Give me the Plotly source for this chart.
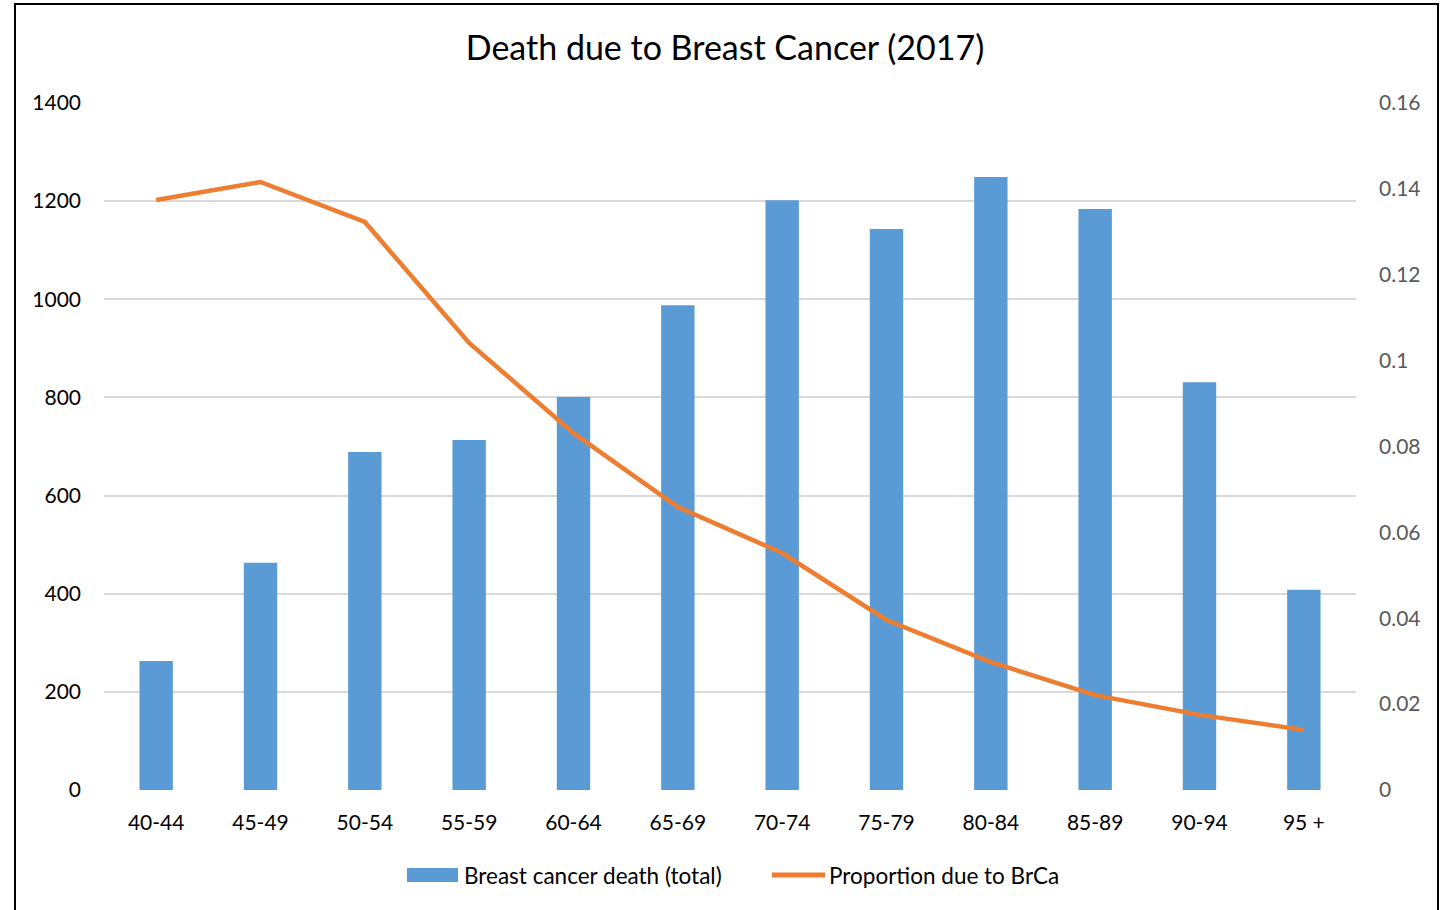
import plotly.graph_objects as go

categories = ["40-44", "45-49", "50-54", "55-59", "60-64", "65-69",
              "70-74", "75-79", "80-84", "85-89", "90-94", "95 +"]
deaths_total = [263, 463, 689, 713, 801, 988, 1202, 1143, 1249, 1184, 831, 408]
proportion = [0.1374, 0.1416, 0.1323, 0.1041, 0.0831, 0.0659,
              0.0552, 0.0396, 0.0298, 0.0221, 0.0175, 0.0140]
left_ticks = [0, 200, 400, 600, 800, 1000, 1200, 1400]
right_ticks = [0, 0.02, 0.04, 0.06, 0.08, 0.1, 0.12, 0.14, 0.16]
right_labels = ["0", "0.02", "0.04", "0.06", "0.08", "0.1", "0.12", "0.14", "0.16"]
bar_name = "Breast cancer death (total)"
line_name = "Proportion due to BrCa"

FONT = "Lato, Calibri, Carlito, sans-serif"
BLUE = "#5B9BD5"
ORANGE = "#ED7D31"

W, H = 1450, 910
L, R, T, B = 104, 94, 103, 120
PW, PH = W - L - R, H - T - B


def px(xp):
    return (xp - L) / PW


def py(yp):
    return ((H - B) - yp) / PH


fig = go.Figure()
fig.add_trace(go.Bar(
    x=categories, y=deaths_total, name=bar_name,
    marker=dict(color=BLUE, line=dict(width=0)), yaxis="y"))
fig.add_trace(go.Scatter(
    x=categories, y=proportion, name=line_name,
    mode="lines", line=dict(color=ORANGE, width=4.5), yaxis="y2"))

legend_y = 875
fig.update_layout(
    width=W, height=H,
    margin=dict(l=L, r=R, t=T, b=B),
    paper_bgcolor="white", plot_bgcolor="white",
    font=dict(family=FONT, size=21, color="#000000"),
    title=dict(text="Death due to Breast Cancer (2017)", x=0.5, xanchor="center",
               y=1 - 48 / H, yref="container", yanchor="middle",
               font=dict(family=FONT, size=34, color="#000000")),
    bargap=0.68,
    showlegend=False,
    xaxis=dict(showgrid=False, showline=False, ticks="", zeroline=False,
               ticklabelstandoff=18,
               tickfont=dict(family=FONT, size=21, color="#000000")),
    yaxis=dict(range=[0, 1400], tickvals=left_ticks, showgrid=True,
               gridcolor="#D9D9D9", gridwidth=1.5, zeroline=False, showline=False,
               ticks="", ticklabelstandoff=22,
               tickfont=dict(family=FONT, size=21, color="#000000")),
    yaxis2=dict(range=[0, 0.16], tickvals=right_ticks, ticktext=right_labels,
                overlaying="y", side="right", showgrid=False, zeroline=False,
                showline=False, ticks="", ticklabelstandoff=22,
                tickfont=dict(family=FONT, size=21, color="#595959")),
    shapes=[
        dict(type="rect", xref="paper", yref="paper",
             x0=px(15), x1=px(1438), y0=-0.2, y1=py(4),
             line=dict(color="#000000", width=2), fillcolor="rgba(0,0,0,0)",
             layer="below"),
        # legend keys
        dict(type="rect", xref="paper", yref="paper",
             x0=px(407), x1=px(458), y0=py(882), y1=py(868),
             line=dict(width=0), fillcolor=BLUE),
        dict(type="line", xref="paper", yref="paper",
             x0=px(772), x1=px(825), y0=py(legend_y), y1=py(legend_y),
             line=dict(color=ORANGE, width=5)),
    ],
    annotations=[
        dict(text=bar_name, xref="paper", yref="paper", x=px(462), y=py(legend_y),
             xanchor="left", yanchor="middle", showarrow=False,
             font=dict(family=FONT, size=22.5, color="#000000")),
        dict(text=line_name, xref="paper", yref="paper", x=px(827), y=py(legend_y),
             xanchor="left", yanchor="middle", showarrow=False,
             font=dict(family=FONT, size=22.5, color="#000000")),
    ],
)

fig.write_html("out.html", config={"displayModeBar": False},
               post_script="document.body.style.margin='0';document.body.style.overflow='hidden';")
